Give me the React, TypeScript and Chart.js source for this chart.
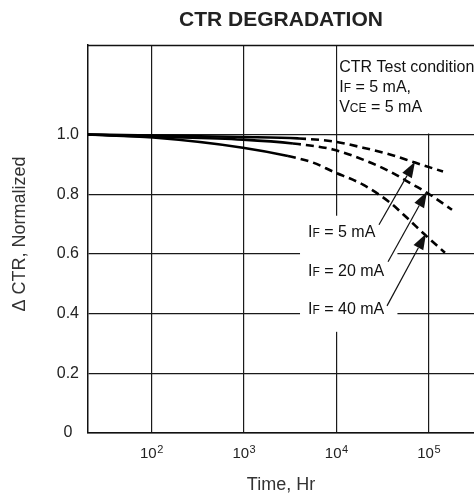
import React, { useEffect, useRef } from "react";
import { Chart, registerables } from "chart.js";

Chart.register(...registerables);

// ---- data (hours, normalized CTR) ----
const hours5mA = [20.6, 104, 977, 3864, 9226, 19500, 38190, 71290, 143200];
const ctr5mA = [1.0, 0.997, 0.992, 0.987, 0.977, 0.956, 0.933, 0.906, 0.876];
const solidEnd5mA = 3;

const hours20mA = [20.6, 104, 977, 3404, 9226, 19500, 38190, 67760, 96160, 179100];
const ctr20mA = [1.0, 0.993, 0.983, 0.97, 0.95, 0.916, 0.876, 0.832, 0.805, 0.748];
const solidEnd20mA = 3;

const hours40mA = [20.6, 104, 977, 3006, 5610, 9226, 19500, 38190, 58340, 91410, 150300];
const ctr40mA = [1.0, 0.99, 0.956, 0.928, 0.906, 0.876, 0.832, 0.772, 0.721, 0.664, 0.604];
const solidEnd40mA = 3;

const xTickValues = [100, 1000, 10000, 100000];
const xTickBase = "10";
const xTickExponents = ["2", "3", "4", "5"];
const yTickValues = [0, 0.2, 0.4, 0.6, 0.8, 1.0];
const yTickLabels = ["0", "0.2", "0.4", "0.6", "0.8", "1.0"];

const titleText = "CTR DEGRADATION";
const xTitle = "Time, Hr";
const yTitle = "Δ CTR, Normalized";

// label texts: [main, subscript, rest]
const curveLabels = [
  ["I", "F", " = 5 mA"],
  ["I", "F", " = 20 mA"],
  ["I", "F", " = 40 mA"],
];
// label anchor (hours, ctr) and arrow tail/tip (hours, ctr)
const labelAnchors = [
  [4955, 0.658],
  [4955, 0.527],
  [4955, 0.399],
];
const arrowTails = [
  [29040, 0.698],
  [36390, 0.574],
  [35480, 0.426],
];
const arrowTips = [
  [71290, 0.909],
  [96160, 0.809],
  [93760, 0.668],
];

const conditionLines = [
  [["CTR Test condition", false]],
  [["I", false], ["F", true], [" = 5 mA,", false]],
  [["V", false], ["CE", true], [" = 5 mA", false]],
];

const FONT = "'Liberation Sans', Arial, Helvetica, sans-serif";

function drawParts(ctx: CanvasRenderingContext2D, parts: any[], x: number, y: number, size: number, small: number) {
  let cx = x;
  for (const [t, isSmall] of parts) {
    ctx.font = `${isSmall ? small : size}px ${FONT}`;
    ctx.fillText(t, cx, y);
    cx += ctx.measureText(t).width;
  }
}

function drawArrow(ctx: CanvasRenderingContext2D, x0: number, y0: number, x1: number, y1: number) {
  const ang = Math.atan2(y1 - y0, x1 - x0);
  const hl = 16;
  const hw = 5.5;
  const bx = x1 - hl * Math.cos(ang);
  const by = y1 - hl * Math.sin(ang);
  ctx.beginPath();
  ctx.moveTo(x0, y0);
  ctx.lineTo(bx, by);
  ctx.lineWidth = 1.2;
  ctx.stroke();
  ctx.beginPath();
  ctx.moveTo(x1, y1);
  ctx.lineTo(bx + hw * Math.sin(ang), by - hw * Math.cos(ang));
  ctx.lineTo(bx - hw * Math.sin(ang), by + hw * Math.cos(ang));
  ctx.closePath();
  ctx.fill();
}

const decorPlugin = {
  id: "decor",
  beforeDatasetsDraw(chart: any) {
    const { ctx, chartArea, scales } = chart;
    const x = scales.x;
    const y = scales.y;
    ctx.save();
    ctx.fillStyle = "#fff";
    const x10k = x.getPixelForValue(10000);
    const y1 = y.getPixelForValue(1.0);
    ctx.fillRect(x10k + 1.5, chartArea.top + 1, chartArea.right - x10k, y1 - chartArea.top - 2);
    // white box behind curve labels
    const bx0 = x.getPixelForValue(labelAnchors[0][0]) - 8;
    const bx1 = x.getPixelForValue(46000);
    const by0 = y.getPixelForValue(0.728);
    const by1 = y.getPixelForValue(0.339);
    ctx.fillRect(bx0, by0, bx1 - bx0, by1 - by0);
    ctx.restore();
  },
  afterDatasetsDraw(chart: any) {
    const { ctx, chartArea, scales } = chart;
    const x = scales.x;
    const y = scales.y;
    ctx.save();
    ctx.fillStyle = "#111";
    ctx.strokeStyle = "#111";
    ctx.textBaseline = "alphabetic";
    ctx.textAlign = "left";
    // condition text
    const x10k = x.getPixelForValue(10000);
    const tx = x10k + 3;
    const ty0 = chartArea.top + 27;
    conditionLines.forEach((parts, i) => {
      drawParts(ctx, parts, tx, ty0 + i * 20, 16, 12);
    });
    // curve labels
    curveLabels.forEach((lab, i) => {
      const px = x.getPixelForValue(labelAnchors[i][0]);
      const py = y.getPixelForValue(labelAnchors[i][1]);
      drawParts(ctx, [[lab[0], false], [lab[1], true], [lab[2], false]], px, py, 16, 12);
    });
    // arrows
    arrowTails.forEach((tail, i) => {
      const tip = arrowTips[i];
      drawArrow(
        ctx,
        x.getPixelForValue(tail[0]),
        y.getPixelForValue(tail[1]),
        x.getPixelForValue(tip[0]),
        y.getPixelForValue(tip[1])
      );
    });
    // top frame line
    ctx.lineWidth = 1.5;
    ctx.beginPath();
    ctx.moveTo(chartArea.left, chartArea.top + 0.5);
    ctx.lineTo(chartArea.right, chartArea.top + 0.5);
    ctx.stroke();
    // x tick labels with superscripts
    ctx.fillStyle = "#222";
    xTickValues.forEach((v, i) => {
      const px = x.getPixelForValue(v);
      ctx.font = `15px ${FONT}`;
      const wb = ctx.measureText(xTickBase).width;
      ctx.font = `11px ${FONT}`;
      const we = ctx.measureText(xTickExponents[i]).width;
      const left = px - (wb + we) / 2;
      const base = chartArea.bottom + 25;
      ctx.font = `15px ${FONT}`;
      ctx.fillText(xTickBase, left, base);
      ctx.font = `11px ${FONT}`;
      ctx.fillText(xTickExponents[i], left + wb + 0.5, base - 5);
    });
    // titles
    ctx.textAlign = "center";
    ctx.font = `bold 21px ${FONT}`;
    ctx.fillStyle = "#222";
    ctx.fillText(titleText, (chartArea.left + chartArea.right) / 2, 26);
    ctx.font = `18px ${FONT}`;
    ctx.fillStyle = "#333";
    ctx.textBaseline = "middle";
    ctx.fillText(xTitle, (chartArea.left + chartArea.right) / 2, 485);
    ctx.save();
    ctx.translate(20, (chartArea.top + chartArea.bottom) / 2 - 5);
    ctx.rotate(-Math.PI / 2);
    ctx.fillText(yTitle, 0, 0);
    ctx.restore();
    ctx.restore();
  },
};

function makeSeries(hours: number[], vals: number[]) {
  return hours.map((h, i) => ({ x: h, y: vals[i] }));
}

function lineDataset(label: string, hours: number[], vals: number[], solidEnd: number) {
  return {
    label,
    data: makeSeries(hours, vals),
    borderColor: "#000",
    borderWidth: 2.6,
    pointRadius: 0,
    cubicInterpolationMode: "monotone",
    borderCapStyle: "butt",
    segment: {
      borderDash: (c: any) => (c.p0DataIndex >= solidEnd ? [8, 5] : []),
    },
  };
}

export default function App() {
  const ref = useRef<HTMLCanvasElement>(null);
  useEffect(() => {
    if (!ref.current) return;
    const chart = new Chart(ref.current, {
      type: "line",
      data: {
        datasets: [
          lineDataset("IF = 5 mA", hours5mA, ctr5mA, solidEnd5mA),
          lineDataset("IF = 20 mA", hours20mA, ctr20mA, solidEnd20mA),
          lineDataset("IF = 40 mA", hours40mA, ctr40mA, solidEnd40mA),
        ] as any,
      },
      options: {
        responsive: false,
        animation: false,
        devicePixelRatio: 1,
        layout: { padding: { top: 45, left: 0, right: 0, bottom: 0 } },
        plugins: { legend: { display: false }, tooltip: { enabled: false }, title: { display: false } },
        scales: {
          x: {
            type: "logarithmic",
            min: 20.6,
            max: 310000,
            afterBuildTicks: (s: any) => {
              s.ticks = xTickValues.map((v) => ({ value: v }));
            },
            afterFit: (s: any) => {
              s.height = 66;
            },
            grid: { color: "#1a1a1a", lineWidth: 1.2, drawTicks: false },
            border: { color: "#111", width: 1.5 },
            ticks: {
              display: false,
              maxRotation: 0,
              autoSkip: false,
            },
          },
          y: {
            type: "linear",
            min: 0,
            max: 1.3,
            afterBuildTicks: (s: any) => {
              s.ticks = yTickValues.map((v) => ({ value: v }));
            },
            afterFit: (s: any) => {
              s.width = 88;
            },
            grid: { color: "#1a1a1a", lineWidth: 1.2, drawTicks: false },
            border: { color: "#111", width: 1.5 },
            ticks: {
              padding: 9,
              crossAlign: "center",
              color: "#222",
              font: { family: FONT, size: 16 },
              callback: (v: any) => {
                const i = yTickValues.findIndex((t) => Math.abs(t - Number(v)) < 1e-6);
                return i >= 0 ? yTickLabels[i] : "";
              },
              autoSkip: false,
            },
          },
        },
      } as any,
      plugins: [decorPlugin],
    });
    return () => chart.destroy();
  }, []);
  return (
    <div style={{ position: "absolute", left: 0, top: 0, width: 474, height: 499, background: "#fff" }}>
      <canvas ref={ref} width={474} height={499} />
    </div>
  );
}
